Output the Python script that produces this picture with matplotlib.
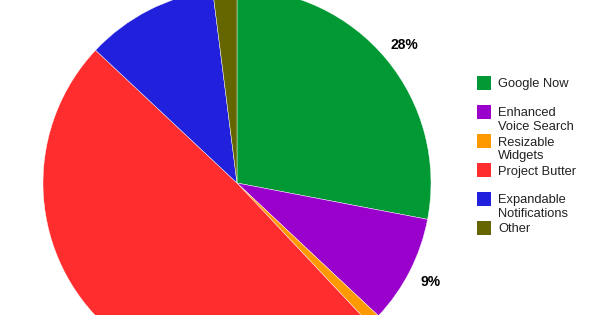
import matplotlib.pyplot as plt
from matplotlib.patches import Rectangle

plt.rcParams["font.family"] = ["Liberation Sans", "DejaVu Sans"]

FEATURES = ["Google Now", "Enhanced\nVoice Search", "Resizable\nWidgets",
            "Project Butter", "Expandable\nNotifications", "Other"]
SHARES = [28, 9, 1, 49, 11, 2]
COLORS = ["#009933", "#9900CC", "#FF9900", "#FF2D2D", "#2020DD", "#666600"]

W, H = 600, 315
CENTER = (237, H - 183)
RADIUS = 194
# legend row centres (pixel y from top)
LEG_Y = [83, 112, 141, 170, 199, 228]


def pct_label(p):
    return f"{p:.0f}%" if p >= 5 else ""


fig = plt.figure(figsize=(W / 100, H / 100), dpi=100)
ax = fig.add_axes([0, 0, 1, 1])
ax.set_xlim(0, W)
ax.set_ylim(0, H)
ax.set_aspect("equal")
ax.axis("off")

wedges, _, autotexts = ax.pie(
    SHARES, colors=COLORS, startangle=90, counterclock=False,
    center=CENTER, radius=RADIUS, autopct=pct_label, pctdistance=1.12,
    wedgeprops=dict(linewidth=0.3, edgecolor="white"),
    textprops=dict(fontsize=10, fontweight="bold", color="black"),
)
ax.set_xlim(0, W)
ax.set_ylim(0, H)

for label, color, yc in zip(FEATURES, COLORS, LEG_Y):
    y = H - yc
    ax.add_patch(Rectangle((477, y - 7), 14, 14, facecolor=color, edgecolor="none"))
    ax.text(498, y + 4.5, label, fontsize=9.3, va="top", ha="left",
            color="#222222", linespacing=1.12)

fig.savefig("out.png", dpi=100)
